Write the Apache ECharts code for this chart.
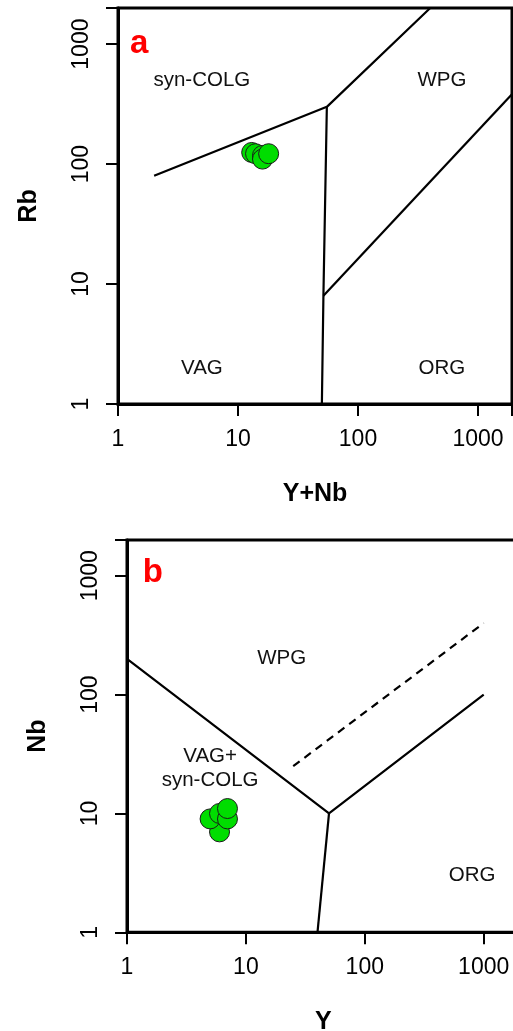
<!DOCTYPE html>
<html>
<head>
<meta charset="utf-8">
<script src="https://cdn.jsdelivr.net/npm/echarts@6/dist/echarts.min.js"></script>
<style>
html,body{margin:0;padding:0;background:#fff;}
#c{width:513px;height:1031px;}
</style>
</head>
<body>
<div id="c"></div>
<script>
// ---- Panel a: Rb vs Y+Nb ----
const aYNb = [13, 14, 16, 16, 18];
const aRb  = [125, 122, 118, 110, 122];
const aBound1 = [[2, 80], [55, 300], [400, 2000]];
const aBound2 = [[55, 300], [51.5, 8], [50, 1]];
const aBound3 = [[51.5, 8], [2000, 400]];
const aFieldNames = ['syn-COLG', 'WPG', 'VAG', 'ORG'];
const aFieldX = [5, 500, 5, 500];
const aFieldY = [500, 500, 2, 2];

// ---- Panel b: Nb vs Y ----
const bY  = [6, 5, 6, 7, 7];
const bNb = [7, 9, 10, 9, 11];
const bBound1 = [[1, 200], [50, 10], [1000, 100]];
const bBound2 = [[50, 10], [40, 1]];
const bDashed = [[25, 25], [1000, 400]];
const bFieldNames = ['WPG', 'VAG+\nsyn-COLG', 'ORG'];
const bFieldX = [20, 5, 800];
const bFieldY = [200, 24, 3];

const tickLabels = ['1', '10', '100', '1000'];
const panelTags = ['a', 'b'];

const chart = echarts.init(document.getElementById('c'), null, {renderer: 'canvas'});

const FONT = 'Liberation Sans, Arial, sans-serif';
function labelStyle(extra) {
  return Object.assign({
    fontSize: 23, color: '#000', fontFamily: FONT,
    formatter: function (v) {
      const s = String(Math.round(v));
      return tickLabels.indexOf(s) >= 0 ? s : '';
    }
  }, extra);
}
function axisBase(extra) {
  return Object.assign({
    type: 'log', logBase: 10, min: 1, max: 2000,
    axisLine: {show: true, onZero: false, lineStyle: {color: '#000', width: 3}},
    axisTick: {show: true, inside: false, length: 12, lineStyle: {color: '#000', width: 2}},
    splitLine: {show: false},
    minorTick: {show: false},
    nameLocation: 'middle',
    nameTextStyle: {fontSize: 25, fontWeight: 'bold', color: '#000', fontFamily: FONT}
  }, extra);
}

function zip(xs, ys) { return xs.map((x, i) => [x, ys[i]]); }
function lineSeries(data, idx, dashed) {
  return {
    type: 'line', xAxisIndex: idx, yAxisIndex: idx, data: data,
    symbol: 'none', clip: true, silent: true, z: 3,
    lineStyle: {color: '#000', width: 2.2, type: dashed ? [8, 6] : 'solid'}
  };
}
function textSeries(names, xs, ys, idx, size, color, weight) {
  return {
    type: 'scatter', xAxisIndex: idx, yAxisIndex: idx, symbolSize: 0, silent: true, z: 5,
    itemStyle: {opacity: 1},
    data: names.map((n, i) => ({name: n, value: [xs[i], ys[i]]})),
    label: {
      show: true, position: 'inside', formatter: '{b}',
      fontSize: size, color: color, fontWeight: weight, fontFamily: FONT,
      lineHeight: size + 4, align: 'center', textBorderWidth: 0, opacity: 1
    }
  };
}
function pointSeries(xs, ys, idx) {
  return {
    type: 'scatter', xAxisIndex: idx, yAxisIndex: idx, data: zip(xs, ys),
    symbol: 'circle', symbolSize: 20, z: 6, silent: true,
    itemStyle: {color: '#00DD00', borderColor: '#1a1a1a', borderWidth: 1, opacity: 1}
  };
}

const option = {
  backgroundColor: '#fff',
  animation: false,
  grid: [
    {left: 118, top: 8, width: 394, height: 396, show: true, borderColor: '#000', borderWidth: 3,
     backgroundColor: 'transparent', containLabel: false, outerBoundsMode: 'none'},
    {left: 127, top: 540, width: 392.5, height: 392.3, show: true, borderColor: '#000', borderWidth: 3,
     backgroundColor: 'transparent', containLabel: false, outerBoundsMode: 'none'}
  ],
  xAxis: [
    axisBase({gridIndex: 0, max: 1920, name: 'Y+Nb', nameGap: 78, axisLabel: labelStyle({margin: 24})}),
    axisBase({gridIndex: 1, name: 'Y', nameGap: 77, axisLabel: labelStyle({margin: 24})})
  ],
  yAxis: [
    axisBase({gridIndex: 0, name: 'Rb', nameGap: 76, nameRotate: 90, axisLabel: labelStyle({rotate: 90, margin: 25})}),
    axisBase({gridIndex: 1, name: 'Nb', nameGap: 76, nameRotate: 90, axisLabel: labelStyle({rotate: 90, margin: 25})})
  ],
  series: [
    lineSeries(aBound1, 0), lineSeries(aBound2, 0), lineSeries(aBound3, 0),
    lineSeries(bBound1, 1), lineSeries(bBound2, 1), lineSeries(bDashed, 1, true),
    textSeries(aFieldNames, aFieldX, aFieldY, 0, 20.5, '#111', 'normal'),
    textSeries(bFieldNames, bFieldX, bFieldY, 1, 20.5, '#111', 'normal'),
    textSeries([panelTags[0]], [1.5], [1000], 0, 33, '#ff0000', 'bold'),
    textSeries([panelTags[1]], [1.65], [1050], 1, 33, '#ff0000', 'bold'),
    pointSeries(aYNb, aRb, 0),
    pointSeries(bY, bNb, 1)
  ]
};
chart.setOption(option);
</script>
</body>
</html>
